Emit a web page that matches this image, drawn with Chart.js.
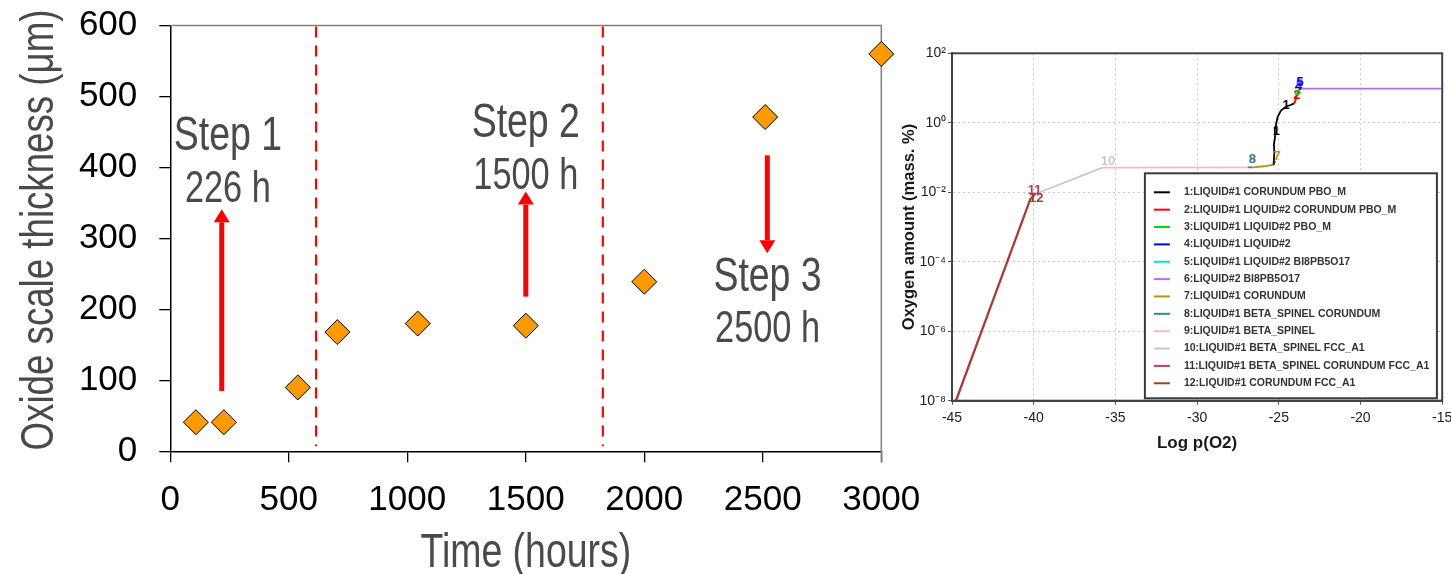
<!DOCTYPE html>
<html>
<head>
<meta charset="utf-8">
<title>Oxide scale growth and oxygen solubility</title>
<script src="https://cdn.jsdelivr.net/npm/chart.js@4/dist/chart.umd.min.js"></script>
<style>
  body { margin: 0; background: #fff; width: 1451px; height: 574px; overflow: hidden; position: relative; }
  #oxide { position: absolute; left: 0; top: 0; }
  #phase { position: absolute; left: 900px; top: 30px; }
</style>
</head>
<body>
<canvas id="oxide" width="940" height="574"></canvas>
<canvas id="phase" width="551" height="430"></canvas>
<script>
// ---- left panel: oxide scale thickness vs exposure time ----
const hours = [108, 226, 538, 705, 1044, 1500, 2000, 2510, 3000];
const thickness = [41, 41, 90, 168, 180, 177, 239, 471, 560];

// boundaries between exposure steps (hours)
const stepBounds = [615, 1825];
const stepNames = ['Step 1', 'Step 2', 'Step 3'];
const stepDurations = ['226 h', '1500 h', '2500 h'];
// where each step note sits, in axis units (hours, µm baseline)
const noteHours = [243, 1500, 2520];
const nameLevel = [425, 443, 226];
const durationLevel = [351, 370, 154];
// red arrows: x in hours, start and tip in µm
const arrowHours = [217, 1500, 2519];
const arrowFrom = [85, 218, 417];
const arrowTo = [341, 366, 279];

// ---- right panel: oxygen amount vs log p(O2), 12 phase regions ----
const phaseLabels = [
    '1:LIQUID#1 CORUNDUM PBO_M',
    '2:LIQUID#1 LIQUID#2 CORUNDUM PBO_M',
    '3:LIQUID#1 LIQUID#2 PBO_M',
    '4:LIQUID#1 LIQUID#2',
    '5:LIQUID#1 LIQUID#2 BI8PB5O17',
    '6:LIQUID#2 BI8PB5O17',
    '7:LIQUID#1 CORUNDUM',
    '8:LIQUID#1 BETA_SPINEL CORUNDUM',
    '9:LIQUID#1 BETA_SPINEL',
    '10:LIQUID#1 BETA_SPINEL FCC_A1',
    '11:LIQUID#1 BETA_SPINEL CORUNDUM FCC_A1',
    '12:LIQUID#1 CORUNDUM FCC_A1'
];
const phaseColors = ['#000000', '#ff0000', '#00dd00', '#0000ff', '#00e0e0', '#b070ff',
    '#b8960b', '#2e8b8b', '#ffb6c1', '#c8c8c8', '#cc3366', '#a0402d'];

// [log p(O2), mass %]
const curve1 = [[-25.32, 0.062], [-25.27, 0.14], [-25.3, 0.24], [-25.22, 0.42], [-25.25, 0.6],
    [-25.16, 0.95], [-25.06, 1.5], [-24.88, 2.2], [-24.62, 2.8], [-24.32, 3.2], [-24.05, 3.6]];
const curve2 = [[-24.05, 3.6], [-23.96, 4.7], [-23.9, 6.0]];
const curve3 = [[-23.9, 6.0], [-23.85, 7.4]];
const curve4 = [[-23.85, 7.4], [-23.8, 8.4]];
const curve5 = [[-23.8, 8.4], [-23.7, 9.6]];
const curve6 = [[-23.7, 9.6], [-15, 9.6]];
const curve7 = [[-26.6, 0.052], [-25.9, 0.056], [-25.32, 0.062], [-25.2, 0.08]];
const curve8 = [[-26.9, 0.052], [-26.6, 0.052]];
const curve9 = [[-35.8, 0.051], [-26.9, 0.052]];
const curve10 = [[-39.9, 0.0089], [-35.8, 0.051]];
const curve11 = [[-44.78, 1e-8], [-40.22, 0.0064], [-39.9, 0.0089]];
const curve12 = [[-44.74, 1e-8], [-40.2, 0.0062], [-39.9, 0.0089]];
const curves = [curve1, curve2, curve3, curve4, curve5, curve6, curve7, curve8, curve9, curve10, curve11, curve12];

// region numbers written along the curves: [text, phase index, log p(O2), mass %]
const curveTags = [
    ['11', 10, -39.95, 0.0115], ['12', 11, -39.85, 0.0068], ['10', 9, -35.45, 0.078],
    ['9', 8, -26.6, 0.088], ['8', 7, -26.62, 0.088], ['7', 6, -25.1, 0.105],
    ['1', 0, -25.15, 0.55], ['1', 0, -24.55, 3.1], ['2', 1, -23.9, 6.0],
    ['3', 2, -23.85, 8.2], ['4', 3, -23.78, 11], ['6', 5, -23.72, 13.5], ['5', 3, -23.7, 14.5]
];
const decades = [1e-8, 1e-6, 1e-4, 1e-2, 1, 100];

Chart.defaults.font.family = '"Liberation Sans", Arial, sans-serif';

// gray Arial-Narrow-like labels: regular face squeezed horizontally
function narrowText(ctx, str, x, y, size, rot) {
    ctx.save();
    ctx.translate(x, y);
    if (rot) ctx.rotate(rot);
    ctx.scale(0.78, 1);
    ctx.font = size + 'px "Liberation Sans", Arial, sans-serif';
    ctx.fillStyle = '#4a4a4a';
    ctx.textAlign = 'center';
    ctx.textBaseline = 'alphabetic';
    ctx.fillText(str, 0, 0);
    ctx.restore();
}

function redArrow(ctx, px, y0, y1) {
    const dir = y1 < y0 ? -1 : 1;
    const head = 13, half = 8;
    const base = y1 - dir * head;
    ctx.fillStyle = '#ff0000';
    ctx.fillRect(px - 2.5, Math.min(y0, base), 5, Math.abs(base - y0));
    ctx.beginPath();
    ctx.moveTo(px, y1);
    ctx.lineTo(px - half, base);
    ctx.lineTo(px + half, base);
    ctx.closePath();
    ctx.fill();
}

const oxideDecor = {
    id: 'oxideDecor',
    beforeDatasetsDraw(chart) {
        const { ctx, chartArea: area, scales: { x } } = chart;
        ctx.save();
        // top and right sides of the frame are lighter
        ctx.strokeStyle = '#808080';
        ctx.lineWidth = 1.5;
        ctx.beginPath();
        ctx.moveTo(area.left, area.top);
        ctx.lineTo(area.right, area.top);
        ctx.lineTo(area.right, area.bottom + 11);
        ctx.stroke();
        // dashed step boundaries
        ctx.strokeStyle = '#ff0000';
        ctx.lineWidth = 2.2;
        ctx.setLineDash([11, 8]);
        stepBounds.forEach(h => {
            const px = x.getPixelForValue(h);
            ctx.beginPath();
            ctx.moveTo(px, area.top + 1);
            ctx.lineTo(px, area.bottom - 5);
            ctx.stroke();
        });
        ctx.restore();
    },
    afterDatasetsDraw(chart) {
        const { ctx, scales: { x, y } } = chart;
        arrowHours.forEach((h, i) => {
            redArrow(ctx, x.getPixelForValue(h), y.getPixelForValue(arrowFrom[i]), y.getPixelForValue(arrowTo[i]));
        });
        stepNames.forEach((name, i) => {
            const px = x.getPixelForValue(noteHours[i]);
            narrowText(ctx, name, px, y.getPixelForValue(nameLevel[i]), 48);
            narrowText(ctx, stepDurations[i], px, y.getPixelForValue(durationLevel[i]), 44);
        });
    },
    afterDraw(chart) {
        const { ctx, chartArea: area } = chart;
        narrowText(ctx, 'Time (hours)', (area.left + area.right) / 2, 567, 48);
        narrowText(ctx, 'Oxide scale thickness (\u03bcm)', 53, 230, 47, -Math.PI / 2);
    }
};

new Chart(document.getElementById('oxide'), {
    type: 'scatter',
    data: {
        datasets: [{
            data: hours.map((h, i) => ({ x: h, y: thickness[i] })),
            pointStyle: 'rectRot',
            pointRadius: 12.5,
            backgroundColor: '#ff9900',
            borderColor: '#000000',
            borderWidth: 1,
            clip: false
        }]
    },
    options: {
        responsive: false,
        animation: false,
        events: [],
        layout: { padding: { left: 0, top: 25.5, right: 58.7, bottom: 0 } },
        plugins: { legend: { display: false }, tooltip: { enabled: false } },
        scales: {
            x: {
                type: 'linear', min: 0, max: 3000,
                ticks: { stepSize: 500, autoSkip: false, maxRotation: 0, color: '#000', font: { size: 35 }, padding: 17,
                    callback: v => String(v) },
                grid: { drawOnChartArea: false, tickLength: 11, color: '#000', lineWidth: 1.3 },
                border: { color: '#000', width: 1.5 },
                afterFit(s) { s.height = 122.7; s.paddingLeft = 0; s.paddingRight = 0; }
            },
            y: {
                min: 0, max: 600,
                ticks: { stepSize: 100, color: '#000', font: { size: 35 }, padding: 22 },
                grid: { drawOnChartArea: false, tickLength: 11, color: '#000', lineWidth: 1.3 },
                border: { color: '#000', width: 1.5 },
                afterFit(s) { s.width = 170.3; s.paddingTop = 0; s.paddingBottom = 0; }
            }
        }
    },
    plugins: [oxideDecor]
});

// superscript exponents for the decade labels
const SUP = { '-': '\u207b', '0': '\u2070', '2': '\u00b2', '4': '\u2074', '6': '\u2076', '8': '\u2078' };
function decadeLabel(v) {
    const e = String(Math.round(Math.log10(v)));
    return '10' + e.split('').map(c => SUP[c]).join('');
}

const phaseDecor = {
    id: 'phaseDecor',
    afterDatasetsDraw(chart) {
        const { ctx, chartArea: area, scales: { x, y } } = chart;
        ctx.save();
        // region numbers on the curves
        ctx.font = 'bold 13px "Liberation Sans", Arial, sans-serif';
        ctx.textAlign = 'center';
        ctx.textBaseline = 'middle';
        curveTags.forEach(t => {
            ctx.fillStyle = phaseColors[t[1]];
            ctx.fillText(t[0], x.getPixelForValue(t[2]), y.getPixelForValue(t[3]));
        });
        // frame
        ctx.strokeStyle = '#444';
        ctx.lineWidth = 2;
        ctx.strokeRect(area.left, area.top, area.right - area.left, area.bottom - area.top);
        // legend box in the lower right corner
        const ds = chart.data.datasets;
        const rowH = 17.36, w = 292, h = 225;
        const left = area.right - 5.3 - w, top = area.bottom - 2.4 - h;
        ctx.fillStyle = '#fff';
        ctx.fillRect(left, top, w, h);
        ctx.strokeStyle = '#3a3a3a';
        ctx.lineWidth = 2;
        ctx.strokeRect(left, top, w, h);
        ctx.font = 'bold 10.5px "Liberation Sans", Arial, sans-serif';
        ctx.textAlign = 'left';
        ds.forEach((d, i) => {
            const cy = top + 19 + i * rowH;
            ctx.strokeStyle = d.borderColor;
            ctx.lineWidth = 2;
            ctx.beginPath();
            ctx.moveTo(left + 9, cy);
            ctx.lineTo(left + 25, cy);
            ctx.stroke();
            ctx.fillStyle = '#333';
            ctx.fillText(d.label, left + 39, cy);
        });
        ctx.restore();
    },
    afterDraw(chart) {
        const { ctx, chartArea: area } = chart;
        ctx.save();
        ctx.fillStyle = '#1a1a1a';
        ctx.textAlign = 'center';
        ctx.textBaseline = 'middle';
        ctx.font = 'bold 17px "Liberation Sans", Arial, sans-serif';
        ctx.fillText('Log p(O2)', (area.left + area.right) / 2, 413);
        ctx.translate(9, 197);
        ctx.rotate(-Math.PI / 2);
        ctx.font = 'bold 16.5px "Liberation Sans", Arial, sans-serif';
        ctx.fillText('Oxygen amount (mass. %)', 0, 0);
        ctx.restore();
    }
};

new Chart(document.getElementById('phase'), {
    type: 'line',
    data: {
        datasets: curves.map((pts, i) => ({
            label: phaseLabels[i],
            data: pts.map(p => ({ x: p[0], y: p[1] })),
            borderColor: phaseColors[i],
            borderWidth: 1.8,
            pointRadius: 0,
            tension: 0,
            fill: false,
            // the brown FCC_A1 branch sits over its twin
            order: i === 11 ? -1 : 0
        }))
    },
    options: {
        responsive: false,
        animation: false,
        events: [],
        layout: { padding: { left: 0, top: 23.3, right: 8.8, bottom: 0 } },
        plugins: { legend: { display: false }, tooltip: { enabled: false } },
        scales: {
            x: {
                type: 'linear', min: -45, max: -15,
                ticks: { stepSize: 5, autoSkip: false, maxRotation: 0, color: '#222', font: { size: 14 }, padding: 5 },
                grid: { color: '#c8c8c8', tickColor: '#555', tickLength: 4, tickBorderDash: [] },
                border: { color: '#444', width: 2, dash: [2, 3] },
                afterFit(s) { s.height = 59.3; s.paddingLeft = 0; s.paddingRight = 0; }
            },
            y: {
                type: 'logarithmic', min: 1e-8, max: 100,
                afterBuildTicks(s) { s.ticks = decades.map(v => ({ value: v })); },
                ticks: { callback: v => decadeLabel(v), color: '#222', font: { size: 14 }, padding: 2 },
                grid: { color: '#c8c8c8', tickColor: '#555', tickLength: 4, tickBorderDash: [] },
                border: { color: '#444', width: 2, dash: [2, 3] },
                afterFit(s) { s.width = 52; s.paddingTop = 0; s.paddingBottom = 0; }
            }
        }
    },
    plugins: [phaseDecor]
});
</script>
</body>
</html>
